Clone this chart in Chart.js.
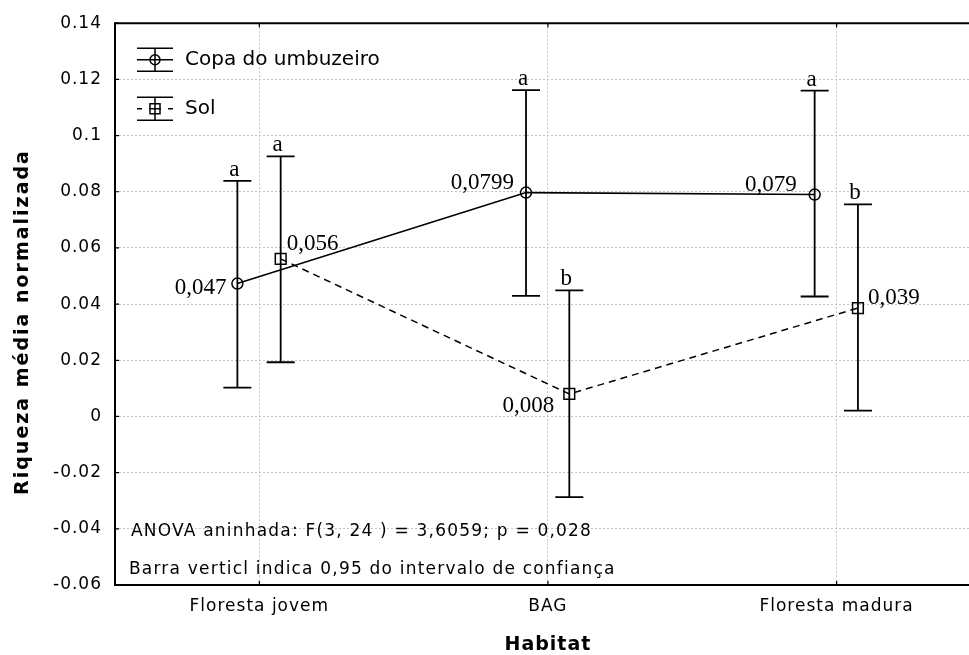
<!DOCTYPE html>
<html><head><meta charset="utf-8">
<script src="https://cdn.jsdelivr.net/npm/chart.js@4.4.0/dist/chart.umd.min.js"></script>
<style>
html,body{margin:0;padding:0;overflow:hidden;background:#fff;width:969px;height:655px}
#wrap{position:absolute;left:0;top:0;width:990px;height:655px}
</style>
</head><body><div id="wrap"><canvas id="c" width="990" height="655"></canvas></div>
<script>
// ---- data ----
const categories = ['Floresta jovem', 'BAG', 'Floresta madura'];
const seriesNames = ['Copa do umbuzeiro', 'Sol'];
const copaMean = [0.0473, 0.0797, 0.0790];
const copaLow  = [0.0103, 0.0429, 0.0427];
const copaHigh = [0.0839, 0.1162, 0.1160];
const solMean  = [0.0561, 0.0080, 0.0386];
const solLow   = [0.0193, -0.0287, 0.0021];
const solHigh  = [0.0926, 0.0449, 0.0755];
const copaLetters = ['a', 'a', 'a'];
const solLetters  = ['a', 'b', 'b'];
const copaValueLabels = ['0,047', '0,0799', '0,079'];
const solValueLabels  = ['0,056', '0,008', '0,039'];
const yTicks = [-0.06, -0.04, -0.02, 0, 0.02, 0.04, 0.06, 0.08, 0.1, 0.12, 0.14];
const xTitle = 'Habitat';
const yTitle = 'Riqueza média normalizada';
const notes = ['ANOVA aninhada: F(3, 24 ) = 3,6059; p = 0,028',
               'Barra verticl indica 0,95 do intervalo de confiança'];

// ---- style / layout (not data) ----
const groupShift = [-0.076, 0.074];
const labelPos = [
  [{dx:-11, dy:4, al:'right'}, {dx:-12, dy:-10, al:'right'}, {dx:-18, dy:-10, al:'right'}],
  [{dx:6, dy:-15, al:'left'}, {dx:-15, dy:12, al:'right'}, {dx:10, dy:-10, al:'left'}]
];

function mk(vals, k) { return vals.map((v, i) => ({x: i + 1 + groupShift[k], y: v})); }

const datasets = [
  {label: seriesNames[0], data: mk(copaMean, 0), low: copaLow, high: copaHigh,
   letters: copaLetters, vlabels: copaValueLabels,
   borderColor: '#000', borderWidth: 1.6, pointStyle: 'circle', pointRadius: 5.5,
   pointBorderWidth: 1.5, pointBackgroundColor: 'rgba(0,0,0,0)', pointBorderColor: '#000',
   fill: false, tension: 0},
  {label: seriesNames[1], data: mk(solMean, 1), low: solLow, high: solHigh,
   letters: solLetters, vlabels: solValueLabels,
   borderColor: '#000', borderWidth: 1.5, borderDash: [7, 5], pointStyle: 'rect', pointRadius: 7.6,
   pointBorderWidth: 1.5, pointBackgroundColor: 'rgba(0,0,0,0)', pointBorderColor: '#000',
   fill: false, tension: 0}
];

const plug = {
  id: 'custom',
  beforeDraw(chart) { chart.ctx.letterSpacing = '1px'; },
  beforeDatasetsDraw(chart) {
    const {ctx, scales: {x, y}} = chart;
    ctx.save();
    ctx.letterSpacing = '0px';
    ctx.strokeStyle = '#000'; ctx.lineWidth = 1.8; ctx.setLineDash([]);
    chart.data.datasets.forEach(ds => {
      ds.data.forEach((p, i) => {
        const px = x.getPixelForValue(p.x);
        const yl = y.getPixelForValue(ds.low[i]), yh = y.getPixelForValue(ds.high[i]);
        ctx.beginPath();
        ctx.moveTo(px, yh); ctx.lineTo(px, yl);
        ctx.moveTo(px - 14, yh); ctx.lineTo(px + 14, yh);
        ctx.moveTo(px - 14, yl); ctx.lineTo(px + 14, yl);
        ctx.stroke();
      });
    });
    ctx.restore();
  },
  afterDatasetsDraw(chart) {
    const {ctx, scales: {x, y}} = chart;
    ctx.save();
    ctx.letterSpacing = '0px';
    ctx.fillStyle = '#000';
    ctx.font = '23px "Liberation Serif"';
    chart.data.datasets.forEach((ds, k) => {
      ds.data.forEach((p, i) => {
        const px = x.getPixelForValue(p.x);
        const py = y.getPixelForValue(p.y);
        const yh = y.getPixelForValue(ds.high[i]);
        ctx.textAlign = 'center'; ctx.textBaseline = 'alphabetic';
        ctx.fillText(ds.letters[i], px - 3, yh - 5);
        const lp = labelPos[k][i];
        ctx.textAlign = lp.al; ctx.textBaseline = 'middle';
        ctx.fillText(ds.vlabels[i], px + lp.dx, py + lp.dy);
      });
    });
    ctx.restore();
  },
  afterDraw(chart) {
    const {ctx, chartArea: a, scales: {x, y}} = chart;
    ctx.save();
    ctx.letterSpacing = '0px';
    ctx.strokeStyle = '#000'; ctx.lineWidth = 2; ctx.setLineDash([]);
    ctx.beginPath();
    ctx.moveTo(a.right, a.top); ctx.lineTo(a.left, a.top); ctx.lineTo(a.left, a.bottom); ctx.lineTo(a.right, a.bottom); ctx.lineTo(a.right, a.top);
    ctx.stroke();
    ctx.lineWidth = 1.2;
    ctx.beginPath();
    yTicks.forEach(v => { const py = y.getPixelForValue(v); ctx.moveTo(a.left, py); ctx.lineTo(a.left + 4, py); });
    categories.forEach((c, i) => { const px = x.getPixelForValue(i + 1);
      ctx.moveTo(px, a.bottom); ctx.lineTo(px, a.bottom - 4);
      ctx.moveTo(px, a.top); ctx.lineTo(px, a.top + 4); });
    ctx.stroke();

    // y axis title
    ctx.save();
    ctx.translate(23, 322);
    ctx.rotate(-Math.PI / 2);
    ctx.font = 'bold 19px "DejaVu Sans"';
    ctx.letterSpacing = '2px';
    ctx.fillStyle = '#000';
    ctx.textAlign = 'center'; ctx.textBaseline = 'middle';
    ctx.fillText(yTitle, 0, 0);
    ctx.restore();

    // legend
    ctx.lineWidth = 1.5;
    chart.data.datasets.forEach((ds, k) => {
      const cy = a.top + 36.5 + 49 * k;
      const x0 = a.left + 22, x1 = a.left + 58, cx = (x0 + x1) / 2;
      ctx.beginPath();
      ctx.moveTo(x0, cy - 11.5); ctx.lineTo(x1, cy - 11.5);
      ctx.moveTo(x0, cy + 11.5); ctx.lineTo(x1, cy + 11.5);
      ctx.moveTo(cx, cy - 11.5); ctx.lineTo(cx, cy + 11.5);
      if (k === 0) { ctx.moveTo(x0, cy); ctx.lineTo(x1, cy); }
      else {
        ctx.moveTo(x0, cy); ctx.lineTo(x0 + 5, cy);
        ctx.moveTo(cx - 6, cy); ctx.lineTo(cx + 6, cy);
        ctx.moveTo(x1 - 5, cy); ctx.lineTo(x1, cy);
      }
      ctx.stroke();
      ctx.beginPath();
      if (k === 0) ctx.arc(cx, cy, 5, 0, Math.PI * 2);
      else ctx.rect(cx - 5, cy - 5, 10, 10);
      ctx.stroke();
      ctx.fillStyle = '#000';
      ctx.font = '20px "DejaVu Sans"';
      ctx.textAlign = 'left'; ctx.textBaseline = 'middle';
      ctx.fillText(ds.label, a.left + 70, cy);
    });

    // notes
    ctx.font = '17px "DejaVu Sans"';
    ctx.letterSpacing = '1.2px';
    ctx.textAlign = 'left'; ctx.textBaseline = 'middle';
    ctx.fillText(notes[0], a.left + 16, a.bottom - 53);
    ctx.fillText(notes[1], a.left + 14, a.bottom - 15);
    ctx.restore();
  }
};

new Chart(document.getElementById('c'), {
  type: 'line',
  data: {datasets},
  plugins: [plug],
  options: {
    responsive: false, animation: false, devicePixelRatio: 1,
    layout: {padding: {left: 0, top: 21, right: 5, bottom: 0}},
    plugins: {legend: {display: false}, tooltip: {enabled: false}},
    scales: {
      x: {
        type: 'linear', min: 0.5, max: 3.5,
        afterBuildTicks: s => { s.ticks = categories.map((c, i) => ({value: i + 1})); },
        afterFit: s => { s.height = 70; },
        ticks: {callback: v => categories[Math.round(v) - 1], color: '#000', padding: 11, autoSkip: false, maxRotation: 0,
                font: {family: 'DejaVu Sans', size: 17}},
        grid: {color: '#c4c4c4', lineWidth: 1, drawTicks: false},
        border: {display: false, dash: [2, 2]},
        title: {display: true, text: xTitle, color: '#000', font: {family: 'DejaVu Sans', size: 19, weight: 'bold', lineHeight: 1}, padding: {top: 0, bottom: 0}}
      },
      y: {
        min: -0.06, max: 0.14,
        afterBuildTicks: s => { s.ticks = yTicks.map(v => ({value: v})); },
        afterFit: s => { s.width = 115; },
        ticks: {callback: v => String(Number(v.toFixed(2))), color: '#000', padding: 13,
                font: {family: 'DejaVu Sans', size: 17}},
        grid: {color: '#c4c4c4', lineWidth: 1, drawTicks: false},
        border: {display: false, dash: [2, 2]},
        title: {display: false, text: yTitle}
      }
    }
  }
});
</script>
</body></html>
